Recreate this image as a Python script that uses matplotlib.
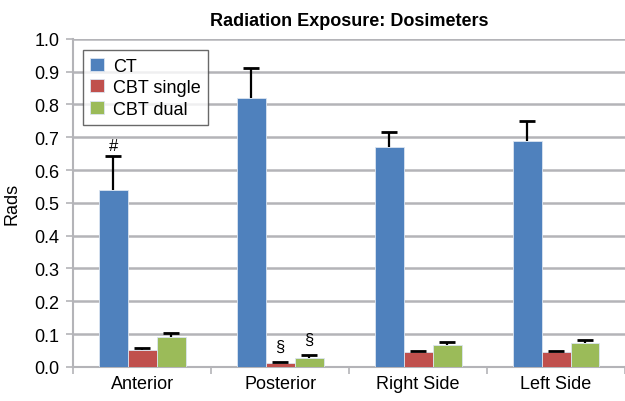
import matplotlib
matplotlib.use("Agg")
import matplotlib.pyplot as plt
import numpy as np

plt.rcParams['font.family'] = ['Liberation Sans', 'DejaVu Sans']

categories = ["Anterior", "Posterior", "Right Side", "Left Side"]
series = ["CT", "CBT single", "CBT dual"]
ct = [0.54, 0.82, 0.67, 0.687]
ct_err = [0.103, 0.09, 0.046, 0.063]
cbt_single = [0.052, 0.012, 0.045, 0.045]
cbt_single_err = [0.005, 0.004, 0.004, 0.004]
cbt_dual = [0.09, 0.028, 0.068, 0.072]
cbt_dual_err = [0.013, 0.007, 0.008, 0.011]
yticks = [0.0, 0.1, 0.2, 0.3, 0.4, 0.5, 0.6, 0.7, 0.8, 0.9, 1.0]

colors = ["#4F81BD", "#C0504D", "#9BBB59"]

fig = plt.figure(figsize=(6.25, 4.02), dpi=100)
ax = fig.add_axes([0.117, 0.085, 0.883, 0.816])

x = np.arange(len(categories))
w = 0.21
vals = [ct, cbt_single, cbt_dual]
errs = [ct_err, cbt_single_err, cbt_dual_err]
for i, (v, e, c, name) in enumerate(zip(vals, errs, colors, series)):
    xs = x + (i - 1) * w
    top = np.array(v) + np.array(e)
    ax.bar(xs, v, w, color=c, edgecolor="#dbe5f1", linewidth=0.6,
           label=name, zorder=3)
    # upper error bar only
    ax.vlines(xs, v, top, color="black", linewidth=1.6, zorder=4)
    ax.plot(xs, top, ls="", marker="_", markersize=11, markeredgewidth=2,
            color="black", zorder=4)

# significance marks
ax.text(x[0] - w, ct[0] + ct_err[0] + 0.01, "#", ha="center", va="bottom", fontsize=12)
ax.text(x[1], cbt_single[1] + cbt_single_err[1] + 0.025, "§", ha="center", va="bottom", fontsize=12)
ax.text(x[1] + w, cbt_dual[1] + cbt_dual_err[1] + 0.025, "§", ha="center", va="bottom", fontsize=12)

ax.set_ylim(0, 1.0)
ax.set_xlim(-0.5, 3.5)
ax.set_yticks(yticks)
ax.set_yticklabels([f"{t:.1f}" for t in yticks], fontsize=13)
ax.yaxis.grid(True, color="#b4b4b8", linewidth=1.8, zorder=0)
ax.set_axisbelow(True)
ax.tick_params(axis="y", length=5, width=1.2, color="#b4b4b8", pad=5)

ax.set_xticks(x)
ax.set_xticklabels(categories, fontsize=13)
ax.set_xticks(np.arange(len(categories) + 1) - 0.5, minor=True)
ax.tick_params(axis="x", which="major", length=0, pad=6)
ax.tick_params(axis="x", which="minor", length=5, color="#b4b4b8", width=1.2)

for s in ["top", "right"]:
    ax.spines[s].set_visible(False)
for s in ["bottom", "left"]:
    ax.spines[s].set_color("#b4b4b8")
    ax.spines[s].set_linewidth(1.5)

ax.set_ylabel("Rads", fontsize=13, labelpad=10)
ax.set_title("Radiation Exposure: Dosimeters", fontsize=13, fontweight="bold", pad=10)

leg = ax.legend(loc="upper left", bbox_to_anchor=(0.018, 0.965), fontsize=13,
                frameon=True, fancybox=False, handlelength=0.75, handleheight=0.75,
                handletextpad=0.5, borderpad=0.4, labelspacing=0.25, borderaxespad=0.0)
leg.get_frame().set_edgecolor("#444444")
leg.get_frame().set_linewidth(1.0)

fig.savefig("out.png", dpi=100)
